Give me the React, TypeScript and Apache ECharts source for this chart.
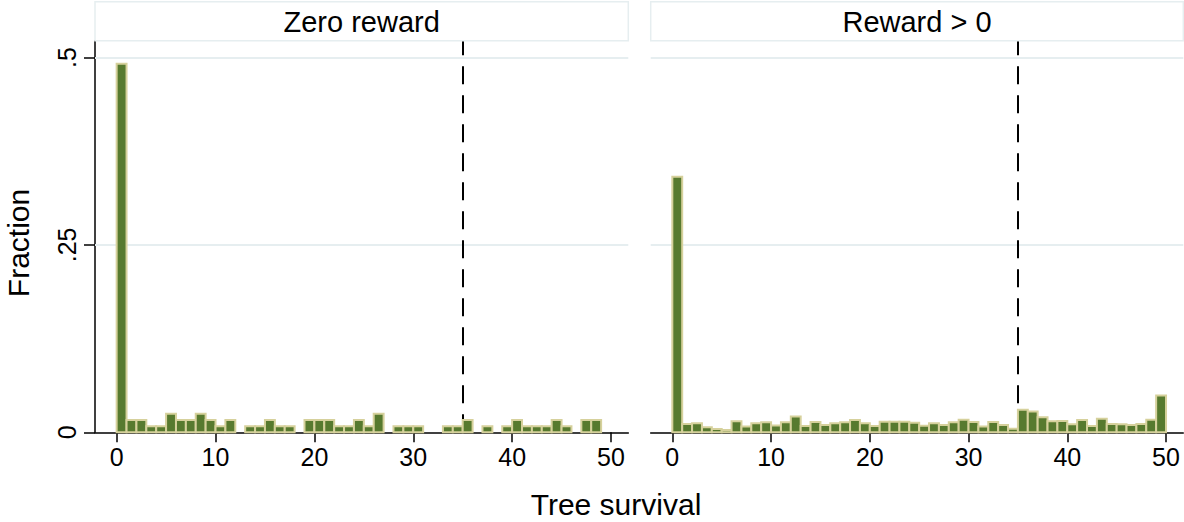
import React, { useEffect, useRef } from "react";
import * as echarts from "echarts";

// Histogram bins: each bin covers [start, start + 1)
const BIN_START = [
  0, 1, 2, 3, 4, 5, 6, 7, 8, 9,
  10, 11, 12, 13, 14, 15, 16, 17, 18, 19,
  20, 21, 22, 23, 24, 25, 26, 27, 28, 29,
  30, 31, 32, 33, 34, 35, 36, 37, 38, 39,
  40, 41, 42, 43, 44, 45, 46, 47, 48, 49,
];

// Fraction of trees in each survival bin, zero-reward group
const ZERO_REWARD = [
  0.4918, 0.0164, 0.0164, 0.0082, 0.0082, 0.0246, 0.0164, 0.0164, 0.0246, 0.0164,
  0.0082, 0.0164, 0, 0.0082, 0.0082, 0.0164, 0.0082, 0.0082, 0, 0.0164,
  0.0164, 0.0164, 0.0082, 0.0082, 0.0164, 0.0082, 0.0246, 0, 0.0082, 0.0082,
  0.0082, 0, 0, 0.0082, 0.0082, 0.0164, 0, 0.0082, 0, 0.0082,
  0.0164, 0.0082, 0.0082, 0.0082, 0.0164, 0.0082, 0, 0.0164, 0.0164, 0,
];

// Fraction of trees in each survival bin, positive-reward group
const POSITIVE_REWARD = [
  0.341, 0.011, 0.012, 0.0067, 0.0045, 0.003, 0.0147, 0.0076, 0.012, 0.0133,
  0.009, 0.0133, 0.021, 0.0085, 0.0138, 0.0098, 0.012, 0.0133, 0.0164, 0.012,
  0.0085, 0.0142, 0.0142, 0.0142, 0.0129, 0.0089, 0.012, 0.0098, 0.0133, 0.0169,
  0.0138, 0.0076, 0.0138, 0.0098, 0.0049, 0.03, 0.0276, 0.02, 0.0147, 0.0151,
  0.0107, 0.0164, 0.0085, 0.0182, 0.011, 0.0107, 0.0098, 0.011, 0.0169, 0.049,
];

const PANEL_TITLES = ["Zero reward", "Reward > 0"];
const X_TICKS = [0, 10, 20, 30, 40, 50];
const Y_TICKS = [0, 0.25, 0.5];
const Y_TICK_LABELS = ["0", ".25", ".5"];
const Y_GRID = [0.25, 0.5];
const CUTOFF = 35;

const X_MIN = -2.19;
const X_MAX = 51.75;
const Y_MAX = 0.522;

const FONT = "'Liberation Sans', Arial, Helvetica, sans-serif";
const BAR_FILL = "#577a2f";
const BAR_EDGE = "#d6d19c";
const GRID_COLOR = "#e6eef0";

function panelSeries(values: number[], idx: number) {
  return [
    {
      // reference lines: horizontal grid and the dashed cutoff
      type: "line",
      xAxisIndex: idx,
      yAxisIndex: idx,
      data: [],
      z: 1,
      markLine: {
        silent: true,
        symbol: "none",
        label: { show: false },
        z: 1,
        data: [
          ...Y_GRID.map((v) => ({
            yAxis: v,
            lineStyle: { color: GRID_COLOR, width: 1.8, type: "solid" },
          })),
          {
            xAxis: CUTOFF,
            lineStyle: { color: "#000", width: 2, type: [18, 11] },
          },
        ],
      },
    },
    {
      type: "custom",
      xAxisIndex: idx,
      yAxisIndex: idx,
      z: 3,
      data: BIN_START.map((s, i) => [s, values[i]]),
      renderItem: (_params: any, api: any) => {
        const start = api.value(0);
        const h = api.value(1);
        if (!h) return null;
        const topLeft = api.coord([start, h]);
        const bottomRight = api.coord([start + 1, 0]);
        return {
          type: "rect",
          shape: {
            x: topLeft[0],
            y: topLeft[1],
            width: bottomRight[0] - topLeft[0],
            height: bottomRight[1] - topLeft[1],
          },
          style: { fill: BAR_FILL, stroke: BAR_EDGE, lineWidth: 2 },
        };
      },
    },
  ];
}

export default function App() {
  const ref = useRef<HTMLDivElement>(null);

  useEffect(() => {
    if (!ref.current) return;
    const chart = echarts.init(ref.current, undefined, { renderer: "svg" });

    const grids = [
      { left: 95, top: 41, width: 533.3, height: 391.3 },
      { left: 650.7, top: 41, width: 532.6, height: 391.3 },
    ];

    const xAxes = grids.map((_, i) => ({
      type: "value",
      gridIndex: i,
      min: X_MIN,
      max: X_MAX,
      axisLine: { show: true, onZero: false, lineStyle: { color: "#000", width: 1.5 } },
      axisTick: {
        show: true,
        customValues: X_TICKS,
        length: 10,
        lineStyle: { color: "#000", width: 1.5 },
      },
      axisLabel: {
        customValues: X_TICKS,
        fontFamily: FONT,
        fontSize: 25,
        color: "#000",
        margin: 12,
      },
      splitLine: { show: false },
    }));

    const yAxes = grids.map((_, i) => ({
      type: "value",
      gridIndex: i,
      min: 0,
      max: Y_MAX,
      axisLine: { show: i === 0, onZero: false, lineStyle: { color: "#000", width: 1.5 } },
      axisTick: {
        show: i === 0,
        customValues: Y_TICKS,
        length: 11,
        lineStyle: { color: "#000", width: 1.5 },
      },
      axisLabel: {
        show: i === 0,
        customValues: Y_TICKS,
        rotate: 90,
        fontFamily: FONT,
        fontSize: 25,
        color: "#000",
        margin: 16,
        formatter: (v: number) => {
          const k = Y_TICKS.findIndex((t) => Math.abs(t - v) < 1e-9);
          return k >= 0 ? Y_TICK_LABELS[k] : "";
        },
      },
      splitLine: { show: false },
    }));

    const strips: any[] = [];
    grids.forEach((g, i) => {
      strips.push({
        type: "rect",
        shape: { x: g.left, y: 1.7, width: g.width, height: 39 },
        style: { fill: "#fff", stroke: GRID_COLOR, lineWidth: 1.5 },
        z: 10,
      });
      strips.push({
        type: "text",
        x: g.left + g.width / 2,
        y: 21.5,
        z: 11,
        style: {
          text: PANEL_TITLES[i],
          fontFamily: FONT,
          fontSize: 29,
          fill: "#000",
          textAlign: "center",
          textVerticalAlign: "middle",
        },
      });
    });

    chart.setOption({
      animation: false,
      backgroundColor: "#fff",
      grid: grids,
      xAxis: xAxes,
      yAxis: yAxes,
      series: [...panelSeries(ZERO_REWARD, 0), ...panelSeries(POSITIVE_REWARD, 1)],
      graphic: [
        ...strips,
        {
          type: "text",
          x: 616,
          y: 504,
          style: {
            text: "Tree survival",
            fontFamily: FONT,
            fontSize: 30,
            fill: "#000",
            textAlign: "center",
            textVerticalAlign: "middle",
          },
        },
        {
          type: "text",
          x: 18,
          y: 243,
          rotation: Math.PI / 2,
          style: {
            text: "Fraction",
            fontFamily: FONT,
            fontSize: 30,
            fill: "#000",
            textAlign: "center",
            textVerticalAlign: "middle",
          },
        },
      ],
    });

    return () => chart.dispose();
  }, []);

  return (
    <div
      ref={ref}
      style={{ position: "fixed", left: 0, top: 0, width: 1184, height: 522, background: "#fff" }}
    />
  );
}
